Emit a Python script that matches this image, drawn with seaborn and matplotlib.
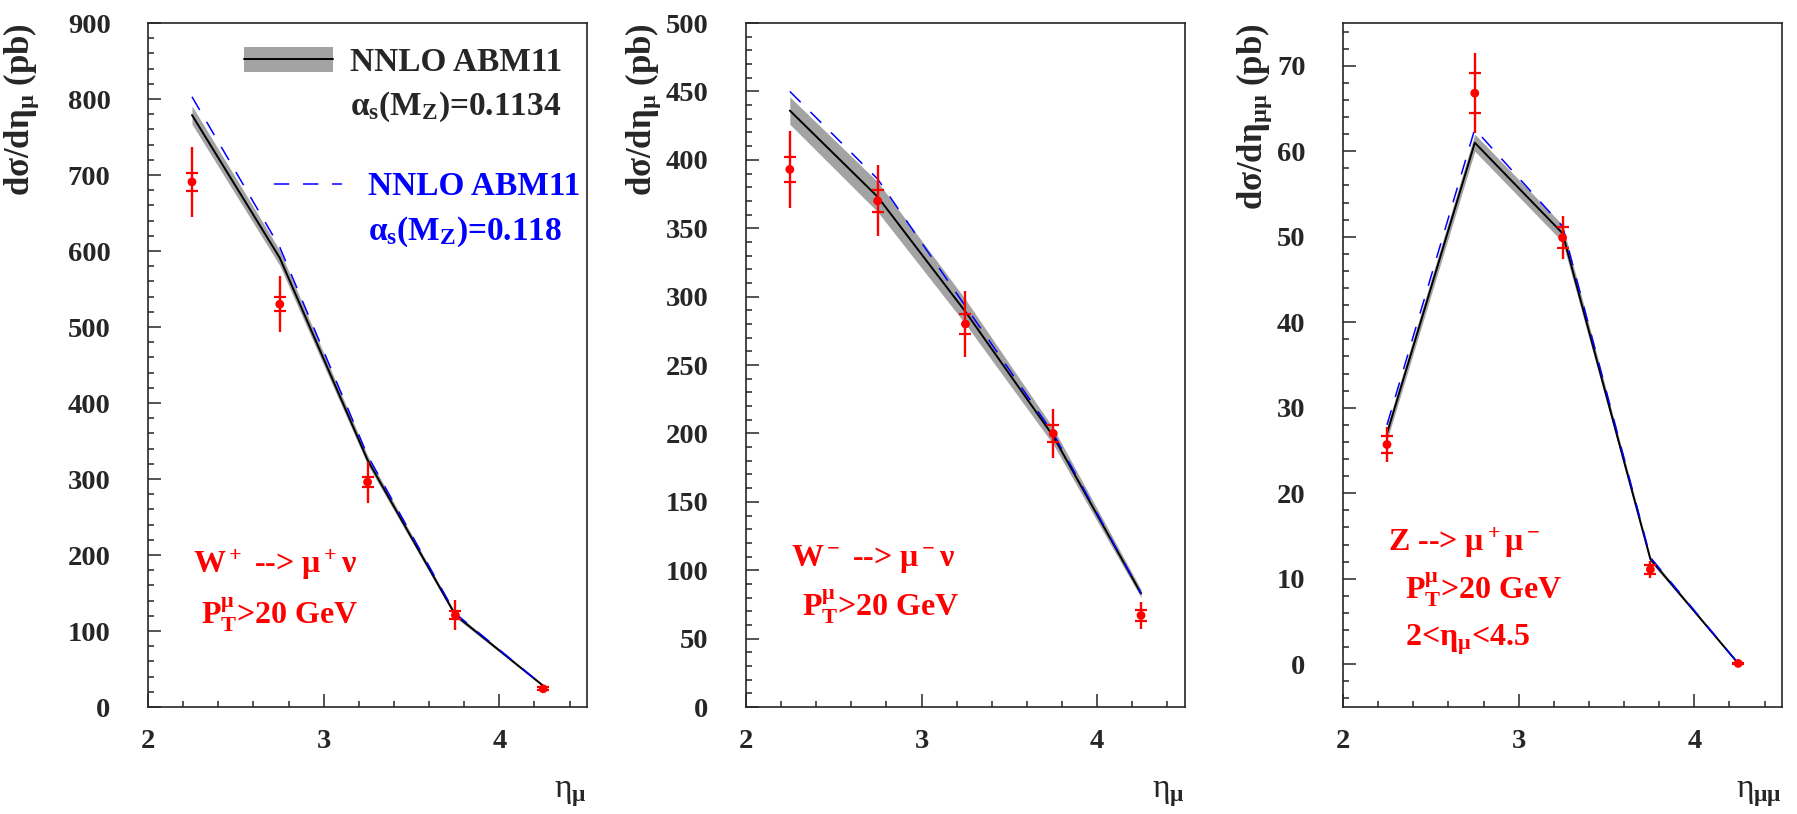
import numpy as np
import pandas as pd
import seaborn as sns
import matplotlib.pyplot as plt
from matplotlib.ticker import MultipleLocator
from matplotlib.lines import Line2D
from matplotlib.patches import Patch


# bin centres in muon pseudorapidity
eta = [2.25, 2.75, 3.25, 3.75, 4.25]

# W+ -> mu+ nu
wp_data = [691, 530, 296, 121, 24]
wp_tot = [46, 37, 27, 20, 4]
wp_stat = [12, 9, 7, 5, 2]
wp_abm = [779, 591, 325, 121, 28]
wp_band = [12, 10, 6, 3, 1]
wp_118 = [803, 605, 331, 123, 28]

# W- -> mu- nu
wm_data = [393, 370, 280, 200, 67]
wm_tot = [28, 26, 24, 18, 10]
wm_stat = [9, 8, 7, 6, 4]
wm_abm = [436, 373, 289, 198, 83]
wm_band = [10, 11, 9, 6, 3]
wm_118 = [450, 386, 293, 200, 83]

# Z -> mu+ mu-
z_data = [25.7, 66.8, 49.9, 11.1, 0.1]
z_tot = [2.0, 4.7, 2.5, 1.0, 0.1]
z_stat = [1.0, 2.3, 1.2, 0.5, 0.05]
z_abm = [27.0, 61.0, 50.4, 12.3, 0.1]
z_band = [0.8, 1.0, 1.0, 0.3, 0.05]
z_118 = [28.0, 62.6, 51.2, 12.5, 0.1]

panels = [
    dict(data=wp_data, tot=wp_tot, stat=wp_stat, abm=wp_abm, band=wp_band, a118=wp_118,
         ylim=(0, 900), major=100, minor=20,
         ylabel="dσ/dη$_\\mu$ (pb)", xlabel="η$_\\mu$",
         texts=[("W$^+$ --> μ$^+$ν", 0.103, 0.208), ("P$_\\mathrm{T}^\\mu$>20 GeV", 0.12, 0.134)]),
    dict(data=wm_data, tot=wm_tot, stat=wm_stat, abm=wm_abm, band=wm_band, a118=wm_118,
         ylim=(0, 500), major=50, minor=10,
         ylabel="dσ/dη$_\\mu$ (pb)", xlabel="η$_\\mu$",
         texts=[("W$^-$ --> μ$^-$ν", 0.102, 0.216), ("P$_\\mathrm{T}^\\mu$>20 GeV", 0.127, 0.146)]),
    dict(data=z_data, tot=z_tot, stat=z_stat, abm=z_abm, band=z_band, a118=z_118,
         ylim=(-5, 75), major=10, minor=2,
         ylabel="dσ/dη$_{\\mu\\mu}$ (pb)", xlabel="η$_{\\mu\\mu}$",
         texts=[("Z --> μ$^+$μ$^-$", 0.102, 0.240), ("P$_\\mathrm{T}^\\mu$>20 GeV", 0.141, 0.171),
                ("2<η$_\\mu$<4.5", 0.141, 0.098)]),
]

sns.set_style("ticks")
plt.rcParams["font.family"] = ["Liberation Serif", "DejaVu Serif"]
plt.rcParams["font.weight"] = "bold"
plt.rcParams["mathtext.fontset"] = "custom"
plt.rcParams["mathtext.rm"] = "Liberation Serif:bold"
plt.rcParams["mathtext.it"] = "Liberation Serif:bold"
plt.rcParams["mathtext.bf"] = "Liberation Serif:bold"

fig, axes = plt.subplots(1, 3, figsize=(17.97, 8.14), dpi=100)
lefts = [0.0824, 0.4151, 0.7474]
ylabel_x = [-0.244, -0.19, -0.158]

for i, (ax, p) in enumerate(zip(axes, panels)):
    ax.set_position([lefts[i], 0.1314, 0.2443, 0.8403])

    lo = np.array(p["abm"]) - np.array(p["band"])
    hi = np.array(p["abm"]) + np.array(p["band"])
    ax.fill_between(eta, lo, hi, color="#a3a3a3", lw=0, zorder=1)
    sns.lineplot(x=eta, y=p["abm"], ax=ax, color="black", linewidth=1.4, zorder=2)
    sns.lineplot(x=eta, y=p["a118"], ax=ax, color="blue", linewidth=1.1,
                 linestyle=(0, (10, 9)), zorder=3)

    ax.errorbar(eta, p["data"], yerr=p["tot"], fmt="none", ecolor="red",
                elinewidth=1.7, capsize=0, zorder=4)
    ax.errorbar(eta, p["data"], yerr=p["stat"], fmt="none", ecolor="red",
                elinewidth=0, capsize=4.5, capthick=1.6, zorder=4)
    sns.scatterplot(x=eta, y=p["data"], ax=ax, color="red", s=40,
                    edgecolor="none", zorder=5)

    ax.set_xlim(2, 4.5)
    ax.set_ylim(*p["ylim"])
    ax.xaxis.set_major_locator(MultipleLocator(1))
    ax.xaxis.set_minor_locator(MultipleLocator(0.2))
    ax.yaxis.set_major_locator(MultipleLocator(p["major"]))
    ax.yaxis.set_minor_locator(MultipleLocator(p["minor"]))
    ax.tick_params(which="both", direction="in", top=False, right=False,
                   width=1.1, labelsize=20.5)
    ax.tick_params(which="major", length=9.5)
    ax.tick_params(which="minor", length=4.5)
    ax.tick_params(axis="y", pad=27)
    ax.tick_params(axis="x", pad=16)
    for lab in ax.get_xticklabels() + ax.get_yticklabels():
        lab.set_fontweight("bold")
    for s in ax.spines.values():
        s.set_linewidth(1.2)
        s.set_visible(True)

    ax.set_ylabel(p["ylabel"], fontsize=25, fontweight="bold", loc="top")
    ax.yaxis.set_label_coords(ylabel_x[i], 1.0)
    ax.set_xlabel(p["xlabel"], fontsize=24, fontweight="normal", loc="right")
    ax.xaxis.set_label_coords(1.0, -0.105)

    for txt, tx, ty in p["texts"]:
        ax.text(tx, ty, txt, transform=ax.transAxes, color="red", fontsize=23,
                fontweight="bold", ha="left", va="center")

# legend on the first panel
ax = axes[0]
h1 = (Patch(facecolor="#a3a3a3", edgecolor="none"), Line2D([], [], color="black", lw=1.4))
blank = Line2D([], [], color="none")
leg1 = ax.legend([h1, blank], ["NNLO ABM11", "α$_\\mathrm{s}$(M$_\\mathrm{Z}$)=0.1134"],
                 loc="upper left", bbox_to_anchor=(0.219, 0.965), frameon=False,
                 fontsize=24, handlelength=2.67, handleheight=0.75, handletextpad=0.5,
                 borderpad=0, borderaxespad=0, labelspacing=0.35)
ax.add_artist(leg1)
h2 = Line2D([], [], color="blue", lw=1.1, linestyle=(0, (10, 9)))
leg2 = ax.legend([h2, blank], ["NNLO ABM11", "α$_\\mathrm{s}$(M$_\\mathrm{Z}$)=0.118"],
                 loc="upper left", bbox_to_anchor=(0.287, 0.783), frameon=False,
                 fontsize=24, handlelength=2.04, handletextpad=0.78, labelcolor="blue",
                 borderpad=0, borderaxespad=0, labelspacing=0.36)

fig.savefig("out.png", dpi=100)
